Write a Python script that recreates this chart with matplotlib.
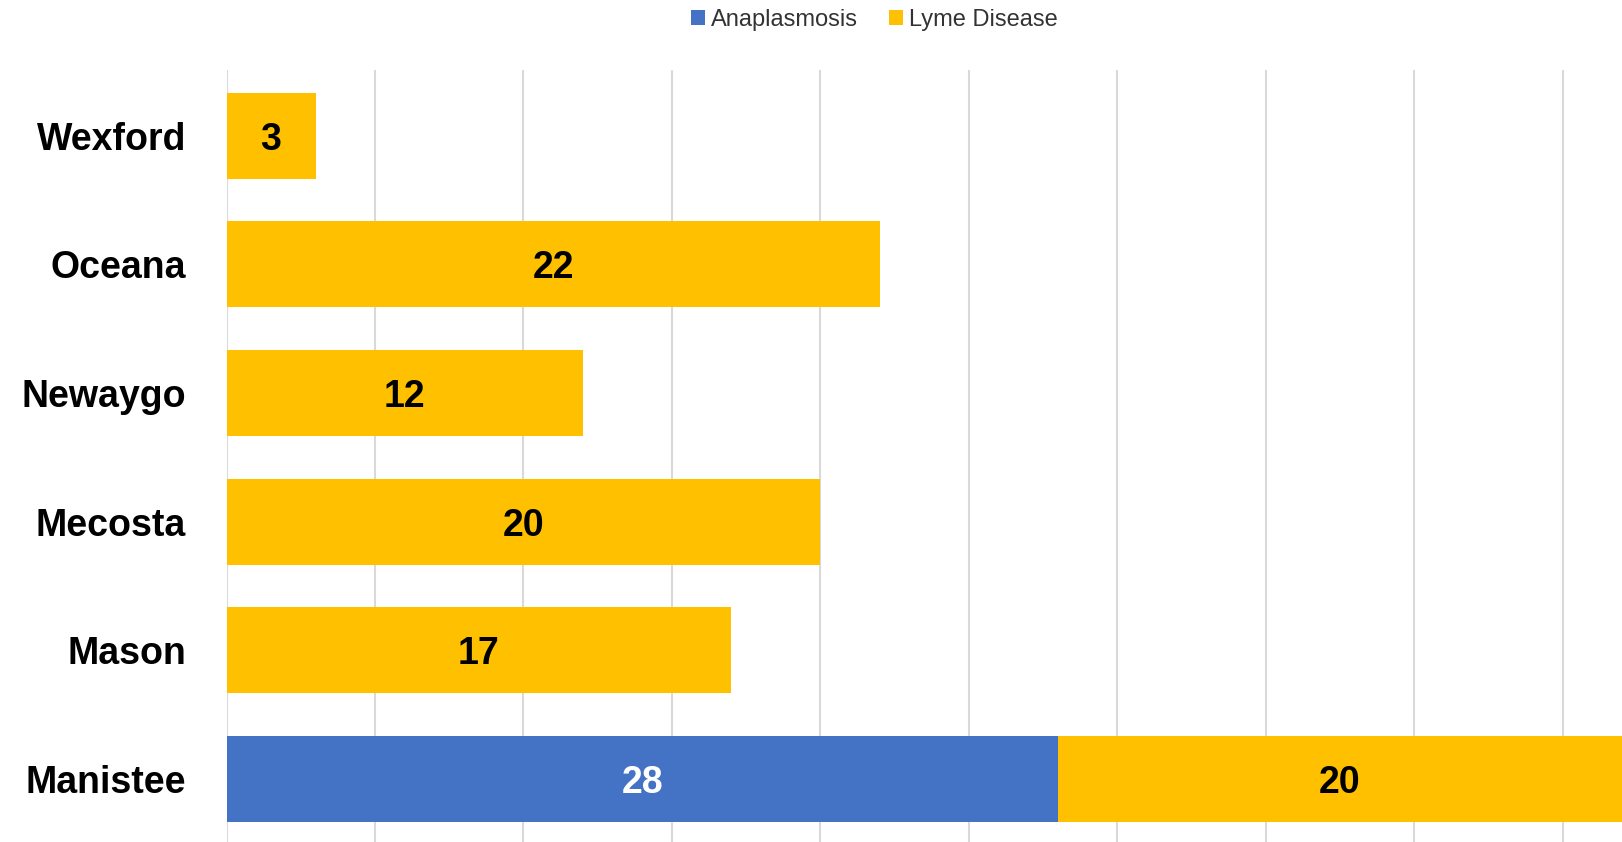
import matplotlib
matplotlib.use("Agg")
import matplotlib.pyplot as plt

# Data, bottom to top as drawn
counties = ["Manistee", "Mason", "Mecosta", "Newaygo", "Oceana", "Wexford"]
anaplasmosis = [28, 0, 0, 0, 0, 0]
lyme = [20, 17, 20, 12, 22, 3]

BLUE = "#4472C4"
GOLD = "#FFC000"
X_MAX = 47.0

plt.rcParams["font.family"] = ["Liberation Sans", "DejaVu Sans"]

fig = plt.figure(figsize=(16.22, 8.42), dpi=100)
ax = fig.add_axes([226.5 / 1622, 0.0, 1 - 226.5 / 1622, 772 / 842])

y = list(range(len(counties)))
h = 0.667
ax.barh(y, anaplasmosis, height=h, color=BLUE, label="Anaplasmosis", zorder=3)
ax.barh(y, lyme, left=anaplasmosis, height=h, color=GOLD, label="Lyme Disease", zorder=3)

# value labels, centred on the visible part of each segment
for i in y:
    a, l = anaplasmosis[i], lyme[i]
    if a > 0:
        ax.text(a / 2, i, str(a), ha="center", va="center_baseline", fontsize=27,
                fontweight="bold", color="white", zorder=4)
    if l > 0:
        right = min(a + l, X_MAX)
        ax.text((a + right) / 2, i, str(l), ha="center", va="center_baseline", fontsize=27,
                fontweight="bold", color="black", zorder=4)

ax.set_xlim(0, X_MAX)
ax.set_ylim(-0.49, 5.51)
ax.set_xticks(range(0, 50, 5))
ax.set_xticklabels([])
ax.tick_params(axis="x", length=0)
ax.grid(axis="x", color="#d9d9d9", linewidth=1.5, zorder=0)
ax.set_yticks(y)
ax.set_yticklabels(counties, fontsize=27, fontweight="bold")
ax.tick_params(axis="y", length=0, pad=29)
for s in ax.spines.values():
    s.set_visible(False)

fig.legend(loc="center", bbox_to_anchor=(0.539, 1 - 20 / 842), ncol=2, frameon=False,
           fontsize=17, handlelength=0.6, handleheight=0.6, handletextpad=0.25,
           columnspacing=1.3, labelcolor="#333333")

fig.savefig("out.png", dpi=100)
